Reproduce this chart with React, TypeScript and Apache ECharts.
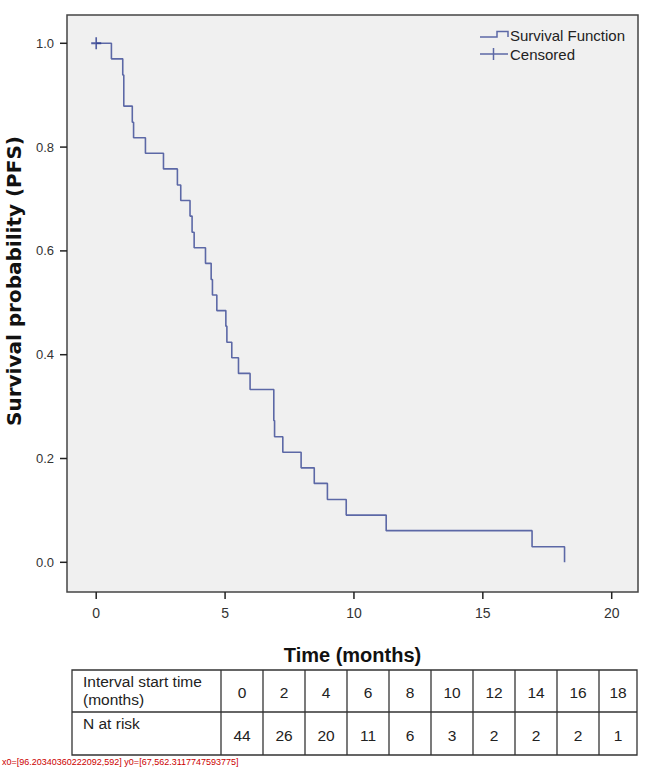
import React, { useEffect, useRef } from 'react';
import * as echarts from 'echarts';

// Kaplan-Meier step points (time in months, survival probability)
const eventTimes = [0, 0.59, 1.03, 1.07, 1.40, 1.45, 1.91, 2.61, 3.15, 3.28, 3.64, 3.72, 3.80, 4.24, 4.46, 4.51, 4.68, 5.03, 5.07, 5.26, 5.52, 5.97, 6.89, 6.92, 7.24, 7.95, 8.46, 8.97, 9.70, 11.25, 16.91, 18.17];
const survival = [1.0, 0.970, 0.939, 0.879, 0.848, 0.818, 0.788, 0.758, 0.727, 0.697, 0.667, 0.636, 0.606, 0.576, 0.545, 0.515, 0.485, 0.455, 0.424, 0.394, 0.364, 0.333, 0.273, 0.242, 0.212, 0.182, 0.152, 0.121, 0.091, 0.061, 0.030, 0.0];
const censoredTimes = [0];
const censoredSurvival = [1.0];

const xTicks = [0, 5, 10, 15, 20];
const yTicks = [0, 0.2, 0.4, 0.6, 0.8, 1.0];

const intervalStart = [0, 2, 4, 6, 8, 10, 12, 14, 16, 18];
const atRisk = [44, 26, 20, 11, 6, 3, 2, 2, 2, 1];
const rowHeaderTop = ['Interval start time', '(months)'];
const rowHeaderBottom = 'N at risk';

const legendLabels = ['Survival Function', 'Censored'];

const LINE_COLOR = '#5c68a6';
const CENSOR_COLOR = '#2c3b8e';
const FONT = '"Liberation Sans", Arial, sans-serif';

const X_MIN = -1.133, X_MAX = 21.02;
const Y_MIN = -0.0572, Y_MAX = 1.0545;

export default function App() {
  const ref = useRef<HTMLDivElement>(null);

  useEffect(() => {
    const chart = echarts.init(ref.current!, null, { renderer: 'svg' });

    // table layout
    const tLeft = 72, tRight = 637, tTop = 670, tMid = 712, tBottom = 755;
    const firstColRight = 221;
    const colW = 42;
    const bounds: number[] = [];
    for (let i = 0; i < intervalStart.length; i++) bounds.push(firstColRight + i * colW);
    bounds.push(tRight);

    const tableEls: any[] = [];
    const stroke = { stroke: '#333', lineWidth: 1.3 };
    tableEls.push({ type: 'rect', shape: { x: tLeft, y: tTop, width: tRight - tLeft, height: tBottom - tTop }, style: { fill: 'none', ...stroke } });
    tableEls.push({ type: 'line', shape: { x1: tLeft, y1: tMid, x2: tRight, y2: tMid }, style: { ...stroke } });
    for (let i = 0; i < bounds.length - 1; i++) {
      tableEls.push({ type: 'line', shape: { x1: bounds[i], y1: tTop, x2: bounds[i], y2: tBottom }, style: { ...stroke } });
    }
    const tFont = { fontFamily: FONT, fontSize: 15.5, fill: '#222' };
    tableEls.push({ type: 'text', x: 83, y: 681, style: { text: rowHeaderTop[0], ...tFont, verticalAlign: 'middle' } });
    tableEls.push({ type: 'text', x: 83, y: 699, style: { text: rowHeaderTop[1], ...tFont, verticalAlign: 'middle' } });
    tableEls.push({ type: 'text', x: 83, y: 723, style: { text: rowHeaderBottom, ...tFont, verticalAlign: 'middle' } });
    for (let i = 0; i < intervalStart.length; i++) {
      const cx = (bounds[i] + bounds[i + 1]) / 2;
      tableEls.push({ type: 'text', x: cx, y: (tTop + tMid) / 2 + 1, style: { text: String(intervalStart[i]), ...tFont, align: 'center', verticalAlign: 'middle' } });
      tableEls.push({ type: 'text', x: cx, y: (tMid + tBottom) / 2 + 2, style: { text: String(atRisk[i]), ...tFont, align: 'center', verticalAlign: 'middle' } });
    }

    // legend
    const legendEls: any[] = [
      { type: 'polyline', shape: { points: [[480, 37], [497, 37], [497, 31.5], [508, 31.5], [508, 37]] }, style: { fill: 'none', stroke: LINE_COLOR, lineWidth: 1.5 } },
      { type: 'text', x: 510, y: 35, style: { text: legendLabels[0], fontFamily: FONT, fontSize: 15, fill: '#222', verticalAlign: 'middle' } },
      { type: 'line', shape: { x1: 480, y1: 54, x2: 508, y2: 54 }, style: { stroke: LINE_COLOR, lineWidth: 1.5 } },
      { type: 'line', shape: { x1: 493.5, y1: 48, x2: 493.5, y2: 60 }, style: { stroke: LINE_COLOR, lineWidth: 1.5 } },
      { type: 'text', x: 510, y: 54, style: { text: legendLabels[1], fontFamily: FONT, fontSize: 15, fill: '#222', verticalAlign: 'middle' } },
    ];

    const option: any = {
      animation: false,
      backgroundColor: '#ffffff',
      grid: {
        left: 67, top: 15, width: 571, height: 577,
        show: true, backgroundColor: '#f0f0f0', borderColor: '#444', borderWidth: 1.5,
      },
      xAxis: {
        type: 'value', min: X_MIN, max: X_MAX,
        name: 'Time (months)', nameLocation: 'middle', nameGap: 63,
        nameTextStyle: { fontFamily: FONT, fontSize: 20, fontWeight: 'bold', color: '#111', verticalAlign: 'middle' },
        axisLine: { show: false, onZero: false },
        axisTick: { show: false },
        axisLabel: { customValues: xTicks, margin: 14, fontFamily: FONT, fontSize: 14, color: '#333' },
        splitLine: { show: false },
      },
      yAxis: {
        type: 'value', min: Y_MIN, max: Y_MAX,
        axisLine: { show: false, onZero: false },
        axisTick: { show: false },
        axisLabel: { customValues: yTicks, margin: 13, fontFamily: FONT, fontSize: 13, color: '#333', formatter: (v: number) => v.toFixed(1) },
        splitLine: { show: false },
      },
      series: [
        {
          name: 'Survival Function', type: 'line', step: 'end', showSymbol: false,
          data: eventTimes.map((t, i) => [t, survival[i]]),
          lineStyle: { color: LINE_COLOR, width: 1.6 }, z: 3,
        },
        {
          name: 'Censored', type: 'scatter',
          data: censoredTimes.map((t, i) => [t, censoredSurvival[i]]),
          symbol: 'path://M0,5L10,5M5,0L5,10', symbolSize: [10, 12],
          itemStyle: { color: 'none', borderColor: CENSOR_COLOR, borderWidth: 1.8 }, z: 4,
        },
      ],
    };
    chart.setOption(option);

    // tick marks as small filled rectangles, positioned through the chart's own axis scales
    const TICK_LEN = 7;
    const tickEls: any[] = [];
    let diag = '';
    xTicks.forEach((v, i) => {
      const p: any = chart.convertToPixel({ gridIndex: 0 }, [v, Y_MIN]);
      if (i === 0) diag += 'x0=' + JSON.stringify(p) + ' ';
      tickEls.push({ type: 'rect', z: 50, shape: { x: Number(p[0]) - 0.75, y: Number(p[1]), width: 1.5, height: TICK_LEN }, style: { fill: '#222' } });
    });
    yTicks.forEach((v, i) => {
      const p: any = chart.convertToPixel({ gridIndex: 0 }, [X_MIN, v]);
      if (i === 0) diag += 'y0=' + JSON.stringify(p);
      tickEls.push({ type: 'rect', z: 50, shape: { x: Number(p[0]) - TICK_LEN, y: Number(p[1]) - 0.75, width: TICK_LEN, height: 1.5 }, style: { fill: '#222' } });
    });

    chart.setOption({
      graphic: [
        { type: 'text', x: 14, y: 281, rotation: Math.PI / 2, style: { text: 'Survival probability (PFS)', fontFamily: '"DejaVu Sans", sans-serif', fontSize: 20, fontWeight: 'bold', fill: '#111', align: 'center', verticalAlign: 'middle' } },
        ...legendEls,
        ...tableEls,
        ...tickEls,
        // temporary diagnostic readout of the tick positions
        { type: 'text', x: 2, y: 762, style: { text: diag, fontFamily: FONT, fontSize: 9, fill: '#c00', verticalAlign: 'middle' } },
      ],
    });
    return () => chart.dispose();
  }, []);

  return <div ref={ref} style={{ position: 'fixed', left: 0, top: 0, width: 646, height: 768, background: '#fff' }} />;
}
